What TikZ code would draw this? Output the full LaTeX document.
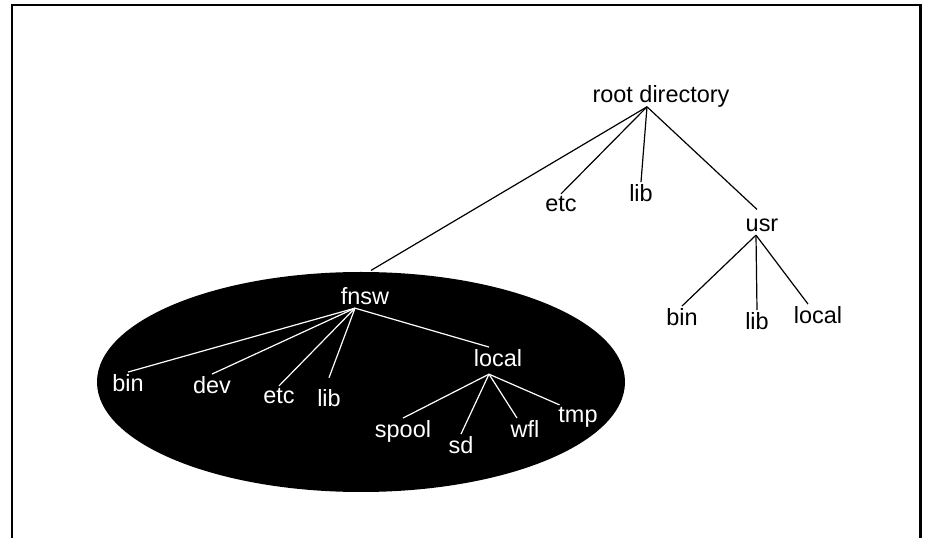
\documentclass[tikz,border=0pt]{standalone}
\usepackage{fontspec}
\setmainfont{Liberation Sans}
\usetikzlibrary{shapes.geometric}

\begin{document}
\begin{tikzpicture}[x=0.75pt, y=-0.75pt,
  dirname/.style={font=\fontsize{17.6}{20}\selectfont, inner sep=2pt, anchor=base},
  branch/.style={line width=0.9pt},
  inbranch/.style={white, line width=0.9pt}]
\useasboundingbox (0,0) rectangle (926,538);
% frame, open at the bottom
\draw[line width=1.9pt] (12.2,538) -- (12.2,4.8) -- (920.3,4.8) -- (920.3,538);
% black area round fnsw
\node[ellipse, fill=black, minimum width=396pt, minimum height=165pt, inner sep=0pt] (fnswarea) at (361,382) {};
% top level
\node[dirname] (rootdir) at (661,103) {root directory};
\node[dirname] (etc) at (561,212) {etc};
\node[dirname] (lib) at (641,202) {lib};
\node[dirname] (usr) at (762,232) {usr};
\node[dirname] (usrbin) at (682,326) {bin};
\node[dirname] (usrlib) at (757,330) {lib};
\node[dirname] (usrlocal) at (818,324) {local};
% inside the black area
\node[dirname, white] (fnsw) at (365,305) {fnsw};
\node[dirname, white] (fbin) at (128,392) {bin};
\node[dirname, white] (fdev) at (212,394) {dev};
\node[dirname, white] (fetc) at (279,404) {etc};
\node[dirname, white] (flib) at (329,407) {lib};
\node[dirname, white] (flocal) at (498,367) {local};
\node[dirname, white] (spool) at (403,438) {spool};
\node[dirname, white] (sd) at (461,454) {sd};
\node[dirname, white] (wfl) at (525,438) {wfl};
\node[dirname, white] (tmp) at (578,423) {tmp};
% root directory branches
\draw[branch, shorten >=2pt] ([xshift=-10.5pt,yshift=3pt]rootdir.south) -- (fnswarea.86);
\foreach \c in {etc,lib}
  \draw[branch] ([xshift=-10.5pt,yshift=3pt]rootdir.south) -- (\c.north);
\draw[branch] ([xshift=-10.5pt,yshift=3pt]rootdir.south) -- ([xshift=-3.75pt,yshift=5.25pt]usr.north);
% usr branches
\foreach \c in {usrbin,usrlib}
  \draw[branch] ([xshift=-4.5pt]usr.south) -- (\c.north);
\draw[branch] ([xshift=-4.5pt]usr.south) -- ([xshift=-7.5pt]usrlocal.north);
% fnsw branches
\foreach \c in {fbin,fdev,fetc}
  \draw[inbranch] ([xshift=-7.5pt]fnsw.south) -- (\c.north);
\draw[inbranch] ([xshift=-7.5pt]fnsw.south) -- ([yshift=7pt]flib.north);
\draw[inbranch] ([xshift=-7.5pt]fnsw.south) -- ([xshift=-6.75pt]flocal.north);
% local branches
\foreach \c in {spool,sd}
  \draw[inbranch] ([xshift=-6.75pt,yshift=-3pt]flocal.south) -- (\c.north);
\draw[inbranch] ([xshift=-6.75pt,yshift=-3pt]flocal.south) -- ([xshift=-6pt]wfl.north);
\draw[inbranch] ([xshift=-6.75pt,yshift=-3pt]flocal.south) -- ([xshift=3pt]tmp.north west);
\end{tikzpicture}
\end{document}
